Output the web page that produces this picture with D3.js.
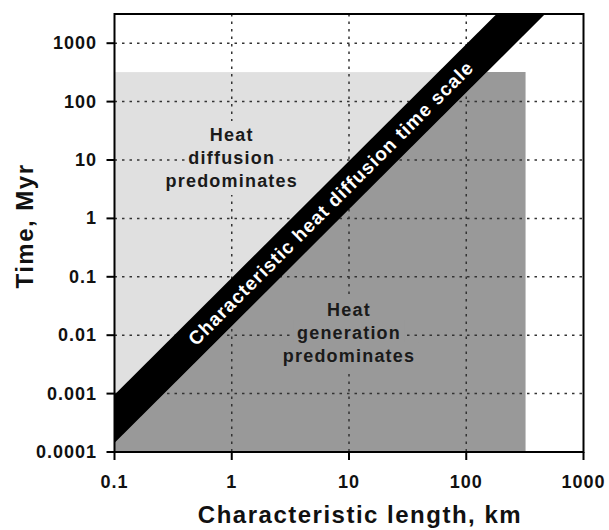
<!DOCTYPE html>
<html>
<head>
<meta charset="utf-8">
<script src="https://cdn.jsdelivr.net/npm/d3@7/dist/d3.min.js"></script>
<style>
  html, body { margin: 0; padding: 0; background: #fff; }
  svg { display: block; font-family: "Liberation Sans", Arial, sans-serif; }
</style>
</head>
<body>
<svg id="chart" width="609" height="530"></svg>
<script>
// ---- data ----
const xTicks = [0.1, 1, 10, 100, 1000];
const xTickLabels = ["0.1", "1", "10", "100", "1000"];
const yTicks = [0.0001, 0.001, 0.01, 0.1, 1, 10, 100, 1000];
const yTickLabels = ["0.0001", "0.001", "0.01", "0.1", "1", "10", "100", "1000"];
const xDomain = [0.1, 1000];
const yDomain = [0.0001, 3162];
// shaded region (x: length km, y: time Myr)
const regionLength = [0.1, 320];
const regionTime = [0.0001, 320];
// characteristic diffusion time band edges (t ~ L^2)
const bandLength = [0.1, 1000];
const bandUpper = [0.00096, 96000];
const bandLower = [0.000143, 14300];
const bandLabel = "Characteristic heat diffusion time scale";
const bandLabelLength = 7;
const regionLabelLines = [["Heat", "diffusion", "predominates"], ["Heat", "generation", "predominates"]];
const regionLabelLength = [1, 10];
const regionLabelTime = [10, 0.01];
const xTitle = "Characteristic length, km";
const yTitle = "Time, Myr";

// ---- layout ----
const L = 114.5, R = 583.5, T = 14, B = 452;
const lightGray = "#e0e0e0", darkGray = "#999999";

const svg = d3.select("#chart");
const x = d3.scaleLog().domain(xDomain).range([L, R]);
const y = d3.scaleLog().domain(yDomain).range([B, T]);

const defs = svg.append("defs");
defs.append("clipPath").attr("id", "plotClip").append("rect")
  .attr("x", L).attr("y", T).attr("width", R - L).attr("height", B - T);
defs.append("clipPath").attr("id", "regionClip").append("rect")
  .attr("x", x(regionLength[0])).attr("y", y(regionTime[1]))
  .attr("width", x(regionLength[1]) - x(regionLength[0]))
  .attr("height", y(regionTime[0]) - y(regionTime[1]));

// light region
svg.append("rect")
  .attr("x", x(regionLength[0])).attr("y", y(regionTime[1]))
  .attr("width", x(regionLength[1]) - x(regionLength[0]))
  .attr("height", y(regionTime[0]) - y(regionTime[1]))
  .attr("fill", lightGray);

// dark region below the band
const darkPts = [
  [x(bandLength[0]), y(bandLower[0])],
  [x(bandLength[1]), y(bandLower[1])],
  [x(bandLength[1]), y(yDomain[0])],
  [x(bandLength[0]), y(yDomain[0])]
];
svg.append("path").attr("clip-path", "url(#regionClip)")
  .attr("d", d3.line()(darkPts) + "Z").attr("fill", darkGray);

// grid
const grid = svg.append("g").attr("stroke", "#333").attr("stroke-width", 1.5)
  .attr("stroke-dasharray", "2.5,5");
xTicks.slice(1, -1).forEach(v => {
  grid.append("line").attr("x1", x(v)).attr("x2", x(v)).attr("y1", T).attr("y2", B);
});
yTicks.slice(1).forEach(v => {
  grid.append("line").attr("y1", y(v)).attr("y2", y(v)).attr("x1", L).attr("x2", R);
});

// region labels with background
regionLabelLines.forEach((lines, i) => {
  const cx = x(regionLabelLength[i]), cy = y(regionLabelTime[i]) - 2;
  const bg = i === 0 ? lightGray : darkGray;
  const g = svg.append("g");
  const lh = 23;
  const texts = lines.map((s, j) => g.append("text")
    .attr("x", cx).attr("y", cy + (j - 1) * lh)
    .attr("text-anchor", "middle").attr("dominant-baseline", "central")
    .attr("font-size", 18)
    .attr("font-weight", "bold")
    .attr("letter-spacing", 1.2)
    .attr("fill", "#1a1a1a").text(s));
  texts.forEach(t => {
    const bb = t.node().getBBox();
    g.insert("rect", "text").attr("x", bb.x - 3).attr("y", bb.y - 4)
      .attr("width", bb.width + 6).attr("height", bb.height + 8).attr("fill", bg);
  });
});

// band
const bandPts = [
  [x(bandLength[0]), y(bandUpper[0])],
  [x(bandLength[1]), y(bandUpper[1])],
  [x(bandLength[1]), y(bandLower[1])],
  [x(bandLength[0]), y(bandLower[0])]
];
svg.append("path").attr("clip-path", "url(#plotClip)")
  .attr("d", d3.line()(bandPts) + "Z").attr("fill", "#000");

// band label
const fracL = (Math.log10(bandLabelLength) - Math.log10(bandLength[0])) / (Math.log10(bandLength[1]) - Math.log10(bandLength[0]));
const logUp = Math.log10(bandUpper[0]) + fracL * (Math.log10(bandUpper[1]) - Math.log10(bandUpper[0]));
const logLo = Math.log10(bandLower[0]) + fracL * (Math.log10(bandLower[1]) - Math.log10(bandLower[0]));
const bx = x(bandLabelLength), by = y(Math.pow(10, (logUp + logLo) / 2));
const angle = Math.atan2(bandPts[1][1] - bandPts[0][1], bandPts[1][0] - bandPts[0][0]) * 180 / Math.PI;
svg.append("text")
  .attr("transform", `translate(${bx},${by}) rotate(${angle})`)
  .attr("text-anchor", "middle").attr("dominant-baseline", "central")
  .attr("font-size", 19).attr("font-weight", "bold").attr("letter-spacing", 1)
  .attr("fill", "#fff").text(bandLabel);

// frame
svg.append("rect").attr("x", L).attr("y", T).attr("width", R - L).attr("height", B - T)
  .attr("fill", "none").attr("stroke", "#000").attr("stroke-width", 2);

// ticks
const ticks = svg.append("g").attr("stroke", "#000").attr("stroke-width", 2);
xTicks.forEach(v => ticks.append("line").attr("x1", x(v)).attr("x2", x(v)).attr("y1", B).attr("y2", B + 8));
yTicks.forEach(v => ticks.append("line").attr("y1", y(v)).attr("y2", y(v)).attr("x1", L - 8).attr("x2", L));

// tick labels
xTicks.forEach((v, i) => svg.append("text")
  .attr("x", x(v)).attr("y", 488).attr("text-anchor", "middle")
  .attr("font-size", 18).attr("font-weight", "bold").attr("letter-spacing", 1)
  .attr("fill", "#111").text(xTickLabels[i]));
yTicks.forEach((v, i) => svg.append("text")
  .attr("x", 97).attr("y", y(v)).attr("text-anchor", "end").attr("dominant-baseline", "central")
  .attr("font-size", 18).attr("font-weight", "bold").attr("letter-spacing", 1)
  .attr("fill", "#111").text(yTickLabels[i]));

// axis titles
svg.append("text").attr("x", 360).attr("y", 523).attr("text-anchor", "middle")
  .attr("font-size", 24).attr("font-weight", "bold").attr("letter-spacing", 1.5)
  .attr("fill", "#111").text(xTitle);
svg.append("text").attr("transform", "translate(33,226) rotate(-90)").attr("text-anchor", "middle")
  .attr("font-size", 24).attr("font-weight", "bold").attr("letter-spacing", 1.5)
  .attr("fill", "#111").text(yTitle);
</script>
</body>
</html>
